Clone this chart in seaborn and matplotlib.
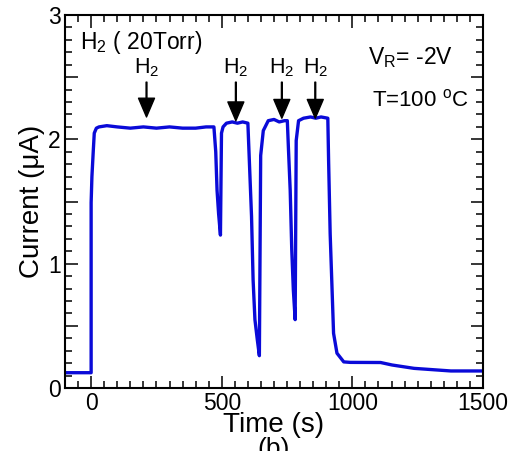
import numpy as np
import pandas as pd
import seaborn as sns
import matplotlib.pyplot as plt
from matplotlib.ticker import MultipleLocator, FuncFormatter

# current trace (time in s, current in uA)
time_s = [-100, 0, 0, 3, 8, 12, 20, 30, 60, 100, 150, 200, 250, 300, 350, 400, 440, 470,
          477, 482, 488, 495, 499, 505, 518, 540, 560, 580, 600,
          608, 614, 620, 627, 636, 644, 649, 659, 678, 700, 720, 740, 751,
          755, 762, 768, 774, 781, 785, 794, 813, 840, 860, 880, 906,
          909, 915, 922, 928, 941, 967, 992, 1108, 1152, 1236, 1377, 1500]
current_ua = [0.123, 0.123, 1.49, 1.70, 1.90, 2.05, 2.09, 2.10, 2.11, 2.10, 2.09, 2.10, 2.09, 2.10, 2.09, 2.09, 2.10, 2.10,
              1.90, 1.59, 1.40, 1.23, 2.05, 2.10, 2.13, 2.14, 2.13, 2.14, 2.13,
              1.70, 1.38, 0.87, 0.55, 0.39, 0.26, 1.87, 2.07, 2.15, 2.16, 2.14, 2.15, 2.15,
              1.94, 1.59, 1.11, 0.79, 0.55, 1.99, 2.15, 2.17, 2.18, 2.17, 2.18, 2.17,
              1.83, 1.24, 0.81, 0.44, 0.28, 0.21, 0.206, 0.205, 0.185, 0.158, 0.137, 0.137]

arrow_t = [212, 554, 730, 858]
arrow_tip = [2.18, 2.15, 2.17, 2.17]

df = pd.DataFrame({"t": time_s, "i": current_ua})

sns.set_style("ticks")
plt.rcParams['font.family'] = ['Liberation Sans', 'DejaVu Sans']
plt.rcParams['mathtext.fontset'] = 'custom'
plt.rcParams['mathtext.rm'] = 'Liberation Sans'
plt.rcParams['mathtext.it'] = 'Liberation Sans:italic'
plt.rcParams['text.color'] = 'black'
plt.rcParams['axes.labelcolor'] = 'black'
plt.rcParams['xtick.color'] = 'black'
plt.rcParams['ytick.color'] = 'black'
plt.rcParams['axes.edgecolor'] = 'black'

fig = plt.figure(figsize=(5.23, 4.51), dpi=100)
ax = fig.add_axes([0.1243, 0.1397, 0.7992, 0.827])

sns.lineplot(data=df, x="t", y="i", sort=False, estimator=None, color='#0a0ad8', lw=2.4, ax=ax)

ax.set_xlim(-100, 1500)
ax.set_ylim(0, 3)
ax.xaxis.set_major_locator(MultipleLocator(500))
ax.xaxis.set_minor_locator(MultipleLocator(50))
ax.yaxis.set_major_locator(MultipleLocator(0.5))
ax.yaxis.set_minor_locator(MultipleLocator(0.1))
ax.yaxis.set_major_formatter(FuncFormatter(lambda v, p: f"{int(v)}" if abs(v - round(v)) < 1e-6 else ""))

ax.tick_params(which='both', direction='in', top=True, right=True, width=1.1, labelsize=16.5, pad=3)
ax.tick_params(which='major', length=9)
ax.tick_params(which='minor', length=5)
for s in ax.spines.values():
    s.set_linewidth(1.5)

ax.set_xlabel("Time (s)", fontsize=20, labelpad=-2)
ax.set_ylabel("Current (μA)", fontsize=20, labelpad=2)

for t, tip in zip(arrow_t, arrow_tip):
    ax.annotate('', xy=(t, tip), xytext=(t, 2.46),
                arrowprops=dict(facecolor='black', edgecolor='black', width=0.6,
                                headwidth=11.5, headlength=13.5, shrink=0))
    ax.text(t, 2.58, r'H$_2$', ha='center', va='center', fontsize=15.5)

ax.text(-42, 2.78, r'H$_2$ ( 20Torr)', ha='left', va='center', fontsize=16.5)
ax.text(1058, 2.66, r'V$_\mathrm{R}$= -2V', ha='left', va='center', fontsize=16.5)
ax.text(1077, 2.31, r'T=100 $^\mathrm{o}$C', ha='left', va='center', fontsize=16)

fig.text(0.524, 0.03, '(b)', ha='center', va='top', fontsize=19)

fig.savefig('out.png', dpi=100)
